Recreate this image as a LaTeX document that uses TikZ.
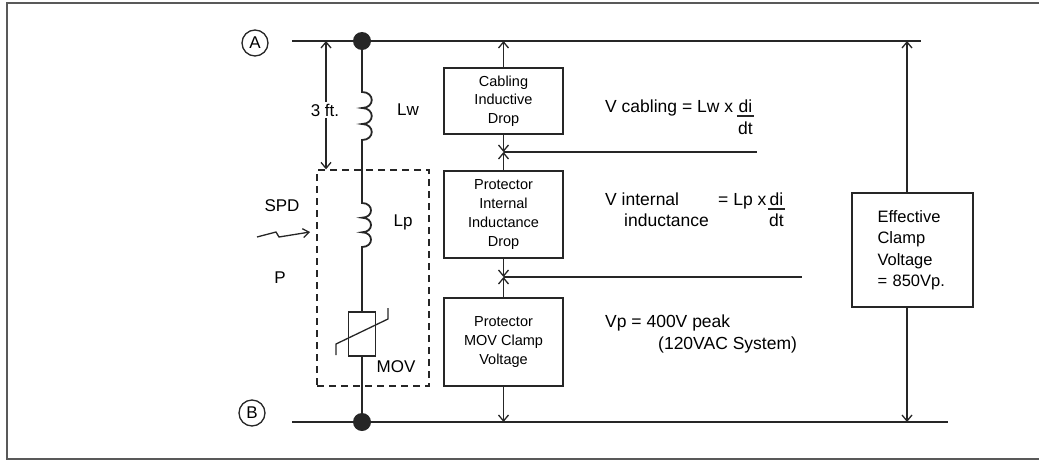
\documentclass[tikz,border=0pt]{standalone}
\usepackage{fontspec}
\setmainfont{Liberation Sans}
\usetikzlibrary{arrows.meta,calc}
\begin{document}
\begin{tikzpicture}[x=1pt,y=-1pt,
  wire/.style={line width=1.8pt, draw=black!85},
  conn/.style={line width=1.3pt, draw=black!85},
  arr/.style={conn, -{Straight Barb[length=6pt,width=10pt,line width=1.3pt]}},
  dbl/.style={conn, {Straight Barb[length=6pt,width=10pt,line width=1.3pt]}-{Straight Barb[length=6pt,width=10pt,line width=1.3pt]}},
  box/.style={draw=black!85, line width=1.3pt, align=center, inner sep=0pt, font=\fontsize{14.5}{18.7}\selectfont},
  lbl/.style={font=\fontsize{17}{20}\selectfont, inner sep=0pt},
  frm/.style={font=\fontsize{17.5}{21}\selectfont, inner sep=0pt},
  term/.style={circle, draw=black!85, line width=1.3pt, minimum size=26pt, inner sep=0pt, font=\fontsize{17}{17}\selectfont},
  dot/.style={circle, fill=black!85, minimum size=18pt, inner sep=0pt}
]
\useasboundingbox (0,0) rectangle (1039,461);
% frame
\draw[line width=2pt, draw=black!65] (1039,3) -- (7,3) -- (7,459) -- (1039,459);

% terminals and rails
\node[term] (A) at (255,43) {A};
\node[term] (B) at (252,413) {B};
\coordinate (tl) at (292,41);
\coordinate (tr) at (921,41);
\coordinate (bl) at (292,422);
\coordinate (br) at (948,422);
\draw[wire] (tl) -- (tr);
\draw[wire] (bl) -- (br);
\node[dot] (dA) at (362,41) {};
\node[dot] (dB) at (362,422) {};

% SPD dashed box
\node[conn, draw, dash pattern=on 7pt off 5pt, minimum width=112pt, minimum height=216pt, inner sep=0pt] (spdbox) at (373,278) {};

% MOV
\node[conn, draw, minimum width=27pt, minimum height=44pt, inner sep=0pt] (mov) at (362,334) {};
\draw[conn] (336,355) -- (336,344) -- (388,319) -- (388,308);

% main wire with inductors
\draw[wire] (dA) -- (362,92)
  .. controls +(13,0) and +(13,0) .. (362,108)
  .. controls +(13,0) and +(13,0) .. (362,124)
  .. controls +(13,0) and +(13,0) .. (362,140)
  -- (362,203)
  .. controls +(12,0) and +(12,0) .. (362,217.7)
  .. controls +(12,0) and +(12,0) .. (362,232.3)
  .. controls +(12,0) and +(12,0) .. (362,247)
  -- (mov.north);
\draw[wire] (mov.south) -- (dB);

% labels left
\coordinate (ft) at (326,41);
\draw[dbl] (ft) -- (ft |- spdbox.north);
\node[lbl, fill=white, inner sep=2pt] (ftl) at (325,110) {3 ft.};
\node[lbl] (lw) at (408,110) {Lw};
\node[lbl] (lp) at (403,222) {Lp};
\node[lbl] (spd) at (282,206) {SPD};
\node[lbl] (p) at (280,278) {P};
\node[lbl] (movl) at (396,367) {MOV};
\draw[conn, -{Straight Barb[length=6pt,width=9pt,line width=1.3pt]}] (257,237) -- (276,232) -- (279,237) -- (310,232);

% middle column
\node[box, minimum width=119pt, minimum height=66pt] (cab) at (503.5,101) {Cabling\\Inductive\\Drop};
\node[box, minimum width=119pt, minimum height=87pt] (pid) at (503.5,214.5) {Protector\\Internal\\Inductance\\Drop};
\node[box, minimum width=119pt, minimum height=88pt] (pmov) at (503.5,342) {Protector\\MOV Clamp\\Voltage};
\coordinate (m1) at (503.5,152);
\coordinate (m1e) at (757,152);
\coordinate (m2) at (503.5,277);
\coordinate (m2e) at (802,277);
\draw[wire] (m1) -- (m1e);
\draw[wire] (m2) -- (m2e);
\draw[arr] (cab.north) -- (cab.north |- tl);
\draw[arr] (cab.south) -- (m1);
\draw[arr] (pid.north) -- (m1);
\draw[arr] (pid.south) -- (m2);
\draw[arr] (pmov.north) -- (m2);
\draw[arr] (pmov.south) -- (pmov.south |- bl);

% formulas
\node[frm, anchor=base west] (f1) at (605,112) {V cabling = Lw x};
\node[frm, anchor=base] (f1n) at (745.5,112) {di};
\node[frm, anchor=base] (f1d) at (745.5,134) {dt};
\draw[conn] ($(f1n.base west)+(-1.5,4)$) -- ($(f1n.base east)+(1.5,4)$);

\node[frm, anchor=base west] (f2a) at (605,205) {V internal};
\node[frm, anchor=base west] (f2b) at (624,226) {inductance};
\node[frm, anchor=base west] (f2c) at (718,205) {= Lp x};
\node[frm, anchor=base] (f2n) at (776.5,205) {di};
\node[frm, anchor=base] (f2d) at (776.5,226) {dt};
\draw[conn] ($(f2n.base west)+(-1.5,4)$) -- ($(f2n.base east)+(1.5,4)$);

\node[frm, anchor=base west] (f3a) at (605,327) {Vp = 400V peak};
\node[frm, anchor=base west] (f3b) at (658,349) {(120VAC System)};

% effective clamp voltage
\node[box, font=\fontsize{16.5}{21.5}\selectfont, align=left, text width=70pt, minimum width=121pt, minimum height=114pt] (eff) at (912.5,250) {Effective\\Clamp\\Voltage\\= 850Vp.};
\coordinate (ea) at (907,41);
\coordinate (eb) at (907,422);
\draw[arr] (ea |- eff.north) -- (ea);
\draw[arr] (eb |- eff.south) -- (eb);
\end{tikzpicture}
\end{document}
